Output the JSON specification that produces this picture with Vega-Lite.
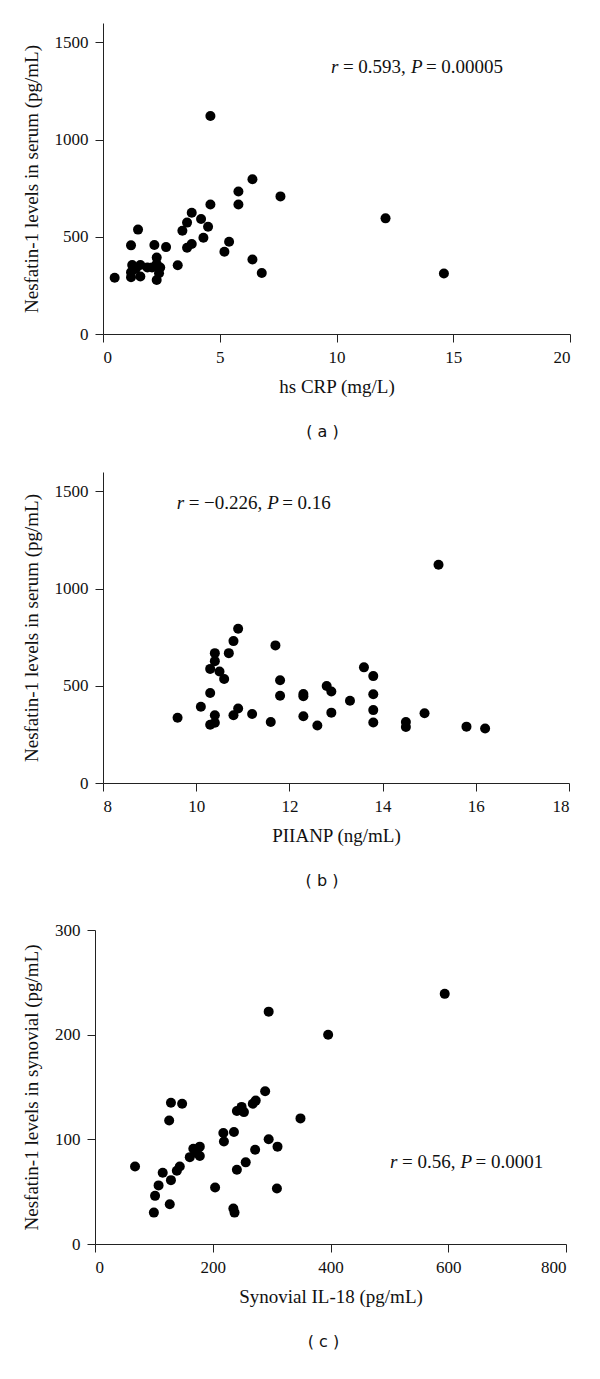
{
  "$schema": "https://vega.github.io/schema/vega-lite/v6.json",
  "background": "white",
  "padding": {"left": 22, "top": 23, "right": 20, "bottom": 10},
  "spacing": 32,
  "config": {
    "font": "Liberation Serif",
    "view": {"stroke": null},
    "axis": {
      "grid": false,
      "domainColor": "#222222",
      "tickColor": "#222222",
      "tickSize": 8,
      "labelFont": "Liberation Serif",
      "labelFontSize": 17,
      "labelColor": "#111111",
      "labelPadding": 7,
      "titleFont": "Liberation Serif",
      "titleFontSize": 19,
      "titleFontWeight": "normal",
      "titleColor": "#111111",
      "titlePadding": 12,
      "format": "d"
    },
    "axisY": {"titlePadding": 13},
    "title": {"font": "DejaVu Sans", "fontSize": 16, "fontWeight": "normal", "color": "#111111"}
  },
  "datasets": {
    "a": [
      {"crp": 0.5, "nesfatin": 289}, {"crp": 1.2, "nesfatin": 456}, {"crp": 1.5, "nesfatin": 537},
      {"crp": 1.25, "nesfatin": 355}, {"crp": 1.6, "nesfatin": 355}, {"crp": 1.2, "nesfatin": 318},
      {"crp": 1.2, "nesfatin": 292}, {"crp": 1.6, "nesfatin": 296}, {"crp": 1.4, "nesfatin": 335},
      {"crp": 1.9, "nesfatin": 342}, {"crp": 2.2, "nesfatin": 458}, {"crp": 2.3, "nesfatin": 393},
      {"crp": 2.3, "nesfatin": 360}, {"crp": 2.1, "nesfatin": 342}, {"crp": 2.45, "nesfatin": 342},
      {"crp": 2.4, "nesfatin": 313}, {"crp": 2.3, "nesfatin": 278}, {"crp": 2.7, "nesfatin": 447},
      {"crp": 3.2, "nesfatin": 354}, {"crp": 3.4, "nesfatin": 531}, {"crp": 3.6, "nesfatin": 573},
      {"crp": 3.8, "nesfatin": 624}, {"crp": 3.6, "nesfatin": 444}, {"crp": 3.8, "nesfatin": 463},
      {"crp": 4.2, "nesfatin": 592}, {"crp": 4.3, "nesfatin": 495}, {"crp": 4.5, "nesfatin": 552},
      {"crp": 4.6, "nesfatin": 666}, {"crp": 4.6, "nesfatin": 1122}, {"crp": 5.2, "nesfatin": 423},
      {"crp": 5.4, "nesfatin": 475}, {"crp": 5.8, "nesfatin": 733}, {"crp": 5.8, "nesfatin": 666},
      {"crp": 6.4, "nesfatin": 796}, {"crp": 6.4, "nesfatin": 383}, {"crp": 6.8, "nesfatin": 314},
      {"crp": 7.6, "nesfatin": 708}, {"crp": 12.1, "nesfatin": 595}, {"crp": 14.6, "nesfatin": 311}
    ],
    "b": [
      {"piianp": 9.6, "nesfatin": 336}, {"piianp": 10.1, "nesfatin": 392}, {"piianp": 10.3, "nesfatin": 463},
      {"piianp": 10.3, "nesfatin": 587}, {"piianp": 10.4, "nesfatin": 627}, {"piianp": 10.4, "nesfatin": 668},
      {"piianp": 10.5, "nesfatin": 574}, {"piianp": 10.6, "nesfatin": 535}, {"piianp": 10.7, "nesfatin": 668},
      {"piianp": 10.8, "nesfatin": 730}, {"piianp": 10.9, "nesfatin": 794}, {"piianp": 10.4, "nesfatin": 349},
      {"piianp": 10.3, "nesfatin": 300}, {"piianp": 10.4, "nesfatin": 310}, {"piianp": 10.8, "nesfatin": 349},
      {"piianp": 10.9, "nesfatin": 383}, {"piianp": 11.2, "nesfatin": 355}, {"piianp": 11.6, "nesfatin": 314},
      {"piianp": 11.7, "nesfatin": 708}, {"piianp": 11.8, "nesfatin": 529}, {"piianp": 11.8, "nesfatin": 449},
      {"piianp": 12.3, "nesfatin": 458}, {"piianp": 12.3, "nesfatin": 446}, {"piianp": 12.3, "nesfatin": 343},
      {"piianp": 12.6, "nesfatin": 296}, {"piianp": 12.8, "nesfatin": 499}, {"piianp": 12.9, "nesfatin": 471},
      {"piianp": 12.9, "nesfatin": 362}, {"piianp": 13.3, "nesfatin": 423}, {"piianp": 13.6, "nesfatin": 595},
      {"piianp": 13.8, "nesfatin": 550}, {"piianp": 13.8, "nesfatin": 457}, {"piianp": 13.8, "nesfatin": 375},
      {"piianp": 13.8, "nesfatin": 311}, {"piianp": 14.5, "nesfatin": 314}, {"piianp": 14.5, "nesfatin": 288},
      {"piianp": 14.9, "nesfatin": 359}, {"piianp": 15.2, "nesfatin": 1123}, {"piianp": 15.8, "nesfatin": 290},
      {"piianp": 16.2, "nesfatin": 280}
    ],
    "c": [
      {"il18": 68, "nesfatin": 74}, {"il18": 100, "nesfatin": 30}, {"il18": 102, "nesfatin": 46},
      {"il18": 108, "nesfatin": 56}, {"il18": 115, "nesfatin": 68}, {"il18": 127, "nesfatin": 38},
      {"il18": 129, "nesfatin": 61}, {"il18": 126, "nesfatin": 118}, {"il18": 129, "nesfatin": 135},
      {"il18": 148, "nesfatin": 134}, {"il18": 139, "nesfatin": 70}, {"il18": 144, "nesfatin": 74},
      {"il18": 161, "nesfatin": 83}, {"il18": 167, "nesfatin": 91}, {"il18": 173, "nesfatin": 87},
      {"il18": 178, "nesfatin": 93}, {"il18": 178, "nesfatin": 84}, {"il18": 204, "nesfatin": 54},
      {"il18": 218, "nesfatin": 106}, {"il18": 219, "nesfatin": 98}, {"il18": 236, "nesfatin": 107},
      {"il18": 241, "nesfatin": 71}, {"il18": 235, "nesfatin": 34}, {"il18": 237, "nesfatin": 30},
      {"il18": 241, "nesfatin": 127}, {"il18": 249, "nesfatin": 131}, {"il18": 253, "nesfatin": 126},
      {"il18": 256, "nesfatin": 78}, {"il18": 268, "nesfatin": 134}, {"il18": 273, "nesfatin": 137},
      {"il18": 289, "nesfatin": 146}, {"il18": 272, "nesfatin": 90}, {"il18": 295, "nesfatin": 100},
      {"il18": 310, "nesfatin": 93}, {"il18": 309, "nesfatin": 53}, {"il18": 349, "nesfatin": 120},
      {"il18": 396, "nesfatin": 200}, {"il18": 295, "nesfatin": 222}, {"il18": 594, "nesfatin": 239}
    ]
  },
  "vconcat": [
    {
      "width": 467,
      "height": 311,
      "title": {"text": "( a )", "orient": "bottom", "offset": 28, "dx": -14},
      "layer": [
        {
          "data": {"name": "a"},
          "mark": {"type": "circle", "size": 100, "color": "#000000", "opacity": 1},
          "encoding": {
            "x": {"field": "crp", "type": "quantitative", "scale": {"domain": [0, 20]}, "axis": {"values": [0, 5, 10, 15, 20], "title": "hs CRP (mg/L)", "labelFont": "Liberation Serif"}},
            "y": {"field": "nesfatin", "type": "quantitative", "scale": {"domain": [0, 1500]}, "axis": {"values": [0, 500, 1000, 1500], "title": "Nesfatin-1 levels in serum (pg/mL)", "labelFont": "Liberation Serif"}}
          }
        },
        {
          "data": {"values": [{"crp": 9.76, "nesfatin": 1372, "t": "r"}]},
          "mark": {"type": "text", "font": "Liberation Serif", "fontSize": 19, "fontStyle": "italic", "align": "left", "baseline": "middle", "color": "#111111"},
          "encoding": {"x": {"field": "crp", "type": "quantitative"}, "y": {"field": "nesfatin", "type": "quantitative"}, "text": {"field": "t"}}
        },
        {
          "data": {"values": [{"crp": 9.76, "nesfatin": 1372, "t": "= 0.593,"}]},
          "mark": {"type": "text", "font": "Liberation Serif", "fontSize": 19, "align": "left", "baseline": "middle", "dx": 12, "color": "#111111"},
          "encoding": {"x": {"field": "crp", "type": "quantitative"}, "y": {"field": "nesfatin", "type": "quantitative"}, "text": {"field": "t"}}
        },
        {
          "data": {"values": [{"crp": 9.76, "nesfatin": 1372, "t": "P"}]},
          "mark": {"type": "text", "font": "Liberation Serif", "fontSize": 19, "fontStyle": "italic", "align": "left", "baseline": "middle", "dx": 80, "color": "#111111"},
          "encoding": {"x": {"field": "crp", "type": "quantitative"}, "y": {"field": "nesfatin", "type": "quantitative"}, "text": {"field": "t"}}
        },
        {
          "data": {"values": [{"crp": 9.76, "nesfatin": 1372, "t": "= 0.00005"}]},
          "mark": {"type": "text", "font": "Liberation Serif", "fontSize": 19, "align": "left", "baseline": "middle", "dx": 95, "color": "#111111"},
          "encoding": {"x": {"field": "crp", "type": "quantitative"}, "y": {"field": "nesfatin", "type": "quantitative"}, "text": {"field": "t"}}
        }
      ]
    },
    {
      "width": 466,
      "height": 311,
      "title": {"text": "( b )", "orient": "bottom", "offset": 28, "dx": -14},
      "layer": [
        {
          "data": {"name": "b"},
          "mark": {"type": "circle", "size": 100, "color": "#000000", "opacity": 1},
          "encoding": {
            "x": {"field": "piianp", "type": "quantitative", "scale": {"domain": [8, 18], "zero": false}, "axis": {"values": [8, 10, 12, 14, 16, 18], "title": "PIIANP (ng/mL)", "labelFont": "Liberation Serif"}},
            "y": {"field": "nesfatin", "type": "quantitative", "scale": {"domain": [0, 1500]}, "axis": {"values": [0, 500, 1000, 1500], "title": "Nesfatin-1 levels in serum (pg/mL)", "labelFont": "Liberation Serif"}}
          }
        },
        {
          "data": {"values": [{"piianp": 9.58, "nesfatin": 1441, "t": "r"}]},
          "mark": {"type": "text", "font": "Liberation Serif", "fontSize": 19, "fontStyle": "italic", "align": "left", "baseline": "middle", "color": "#111111"},
          "encoding": {"x": {"field": "piianp", "type": "quantitative"}, "y": {"field": "nesfatin", "type": "quantitative"}, "text": {"field": "t"}}
        },
        {
          "data": {"values": [{"piianp": 9.58, "nesfatin": 1441, "t": "= −0.226,"}]},
          "mark": {"type": "text", "font": "Liberation Serif", "fontSize": 19, "align": "left", "baseline": "middle", "dx": 12, "color": "#111111"},
          "encoding": {"x": {"field": "piianp", "type": "quantitative"}, "y": {"field": "nesfatin", "type": "quantitative"}, "text": {"field": "t"}}
        },
        {
          "data": {"values": [{"piianp": 9.58, "nesfatin": 1441, "t": "P"}]},
          "mark": {"type": "text", "font": "Liberation Serif", "fontSize": 19, "fontStyle": "italic", "align": "left", "baseline": "middle", "dx": 90.5, "color": "#111111"},
          "encoding": {"x": {"field": "piianp", "type": "quantitative"}, "y": {"field": "nesfatin", "type": "quantitative"}, "text": {"field": "t"}}
        },
        {
          "data": {"values": [{"piianp": 9.58, "nesfatin": 1441, "t": "= 0.16"}]},
          "mark": {"type": "text", "font": "Liberation Serif", "fontSize": 19, "align": "left", "baseline": "middle", "dx": 105.5, "color": "#111111"},
          "encoding": {"x": {"field": "piianp", "type": "quantitative"}, "y": {"field": "nesfatin", "type": "quantitative"}, "text": {"field": "t"}}
        }
      ]
    },
    {
      "width": 463,
      "height": 314,
      "title": {"text": "( c )", "orient": "bottom", "offset": 28, "dx": -11},
      "layer": [
        {
          "data": {"name": "c"},
          "mark": {"type": "circle", "size": 100, "color": "#000000", "opacity": 1},
          "encoding": {
            "x": {"field": "il18", "type": "quantitative", "scale": {"domain": [0, 800], "range": [-8, 463]}, "axis": {"values": [0, 200, 400, 600, 800], "title": "Synovial IL-18 (pg/mL)", "labelFont": "Liberation Serif"}},
            "y": {"field": "nesfatin", "type": "quantitative", "scale": {"domain": [0, 300]}, "axis": {"values": [0, 100, 200, 300], "title": "Nesfatin-1 levels in synovial (pg/mL)", "labelFont": "Liberation Serif", "offset": 8}}
          }
        },
        {
          "data": {"values": [{"il18": 501, "nesfatin": 78.7, "t": "r"}]},
          "mark": {"type": "text", "font": "Liberation Serif", "fontSize": 19, "fontStyle": "italic", "align": "left", "baseline": "middle", "color": "#111111"},
          "encoding": {"x": {"field": "il18", "type": "quantitative"}, "y": {"field": "nesfatin", "type": "quantitative"}, "text": {"field": "t"}}
        },
        {
          "data": {"values": [{"il18": 501, "nesfatin": 78.7, "t": "= 0.56,"}]},
          "mark": {"type": "text", "font": "Liberation Serif", "fontSize": 19, "align": "left", "baseline": "middle", "dx": 12, "color": "#111111"},
          "encoding": {"x": {"field": "il18", "type": "quantitative"}, "y": {"field": "nesfatin", "type": "quantitative"}, "text": {"field": "t"}}
        },
        {
          "data": {"values": [{"il18": 501, "nesfatin": 78.7, "t": "P"}]},
          "mark": {"type": "text", "font": "Liberation Serif", "fontSize": 19, "fontStyle": "italic", "align": "left", "baseline": "middle", "dx": 70.5, "color": "#111111"},
          "encoding": {"x": {"field": "il18", "type": "quantitative"}, "y": {"field": "nesfatin", "type": "quantitative"}, "text": {"field": "t"}}
        },
        {
          "data": {"values": [{"il18": 501, "nesfatin": 78.7, "t": "= 0.0001"}]},
          "mark": {"type": "text", "font": "Liberation Serif", "fontSize": 19, "align": "left", "baseline": "middle", "dx": 85.5, "color": "#111111"},
          "encoding": {"x": {"field": "il18", "type": "quantitative"}, "y": {"field": "nesfatin", "type": "quantitative"}, "text": {"field": "t"}}
        }
      ]
    }
  ]
}
